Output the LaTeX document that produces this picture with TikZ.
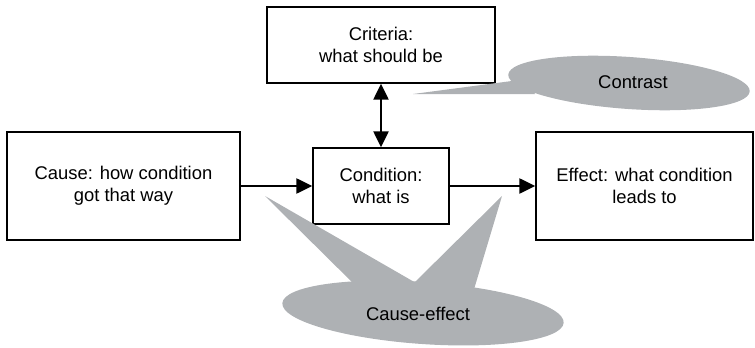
\documentclass[tikz,border=0pt]{standalone}
\usepackage{fontspec}
\setmainfont{Liberation Sans}
\usetikzlibrary{arrows.meta}
\definecolor{bubblegray}{HTML}{AEB1B4}
\tikzset{
  box/.style={draw=black, line width=1.4pt, align=center, inner sep=0pt,
    font=\fontsize{18.4}{21.7}\selectfont},
  conn/.style={line width=2.4pt, -{Triangle[length=16pt,width=15pt]}},
  biconn/.style={line width=2.4pt, {Triangle[length=16pt,width=15pt]}-{Triangle[length=16pt,width=15pt]}},
  bubble/.style={fill=bubblegray, draw=none},
  bubbletext/.style={font=\fontsize{18.4}{21.7}\selectfont, inner sep=0pt}
}
\begin{document}
\begin{tikzpicture}[x=1pt,y=-1pt]
\useasboundingbox (0,0) rectangle (755,348);
% boxes
\node[box, minimum width=228pt, minimum height=76pt] (crit) at (381,45) {Criteria:\\what should be};
\node[box, minimum width=136pt, minimum height=76pt] (cond) at (381,186) {Condition:\\what is};
\node[box, minimum width=233pt, minimum height=108pt] (cause) at (123.5,186) {Cause: how condition\\got that way};
\node[box, minimum width=217pt, minimum height=108pt] (effect) at (644.5,186) {Effect: what condition\\leads to};
% connectors
\draw[conn] (cause.east) -- (cond.west);
\draw[conn] (cond.east) -- (effect.west);
\draw[biconn] (crit.south) -- (cond.north);
% contrast bubble
\coordinate (ctip) at (413,94);
\fill[bubble] (ctip) -- (527,79) -- (535,94) -- cycle;
\fill[bubble, rotate around={-4:(629,83)}] (629,83) ellipse [x radius=121pt, y radius=26pt];
\node[bubbletext] (contrast) at (633,82) {Contrast};
% cause-effect bubble
\coordinate (ltip) at (265,196);
\coordinate (rtip) at (502,196);
\fill[bubble] (ltip) -- (362,292) -- (416,283) -- cycle;
\fill[bubble] (rtip) -- (414,283) -- (472,296) -- cycle;
\fill[bubble, rotate around={-4:(423,313)}] (423,313) ellipse [x radius=141pt, y radius=31pt];
\node[bubbletext] (ce) at (418,314) {Cause-effect};
\end{tikzpicture}
\end{document}
